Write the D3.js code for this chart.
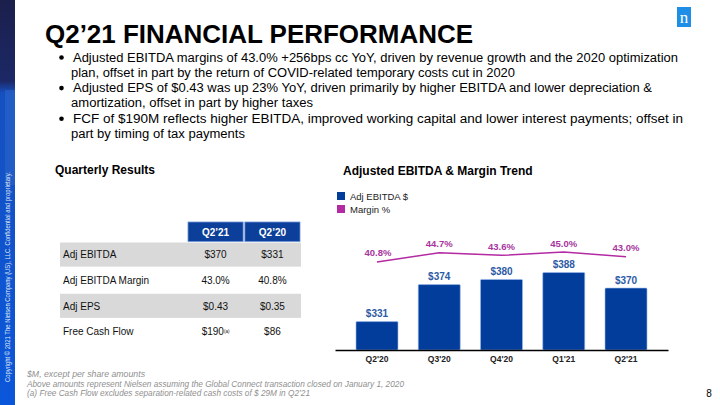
<!DOCTYPE html>
<html><head><meta charset="utf-8">
<script src="https://cdn.jsdelivr.net/npm/d3@7"></script>
<style>
html,body{margin:0;padding:0;background:#fff;}
svg{display:block;font-family:"Liberation Sans",Arial,sans-serif;}
</style></head>
<body><svg id="c" width="720" height="405"></svg>
<script>
const quarters = ["Q2'20","Q3'20","Q4'20","Q1'21","Q2'21"];
const ebitda = [331,374,380,388,370];
const margin = [40.8,44.7,43.6,45.0,43.0];
const tableRows = ["Adj EBITDA","Adj EBITDA Margin","Adj EPS","Free Cash Flow"];
const tableCols = ["Q2\u201921","Q2\u201920"];
const colQ221 = ["$370","43.0%","$0.43","$190"];
const colQ220 = ["$331","40.8%","$0.35","$86"];
const bullets = [
  ["Adjusted EBITDA margins of 43.0% +256bps cc YoY, driven by revenue growth and the 2020 optimization","plan, offset in part by the return of COVID-related temporary costs cut in 2020"],
  ["Adjusted EPS of $0.43 was up 23% YoY, driven primarily by higher EBITDA and lower depreciation &","amortization, offset in part by higher taxes"],
  ["FCF of $190M reflects higher EBITDA, improved working capital and lower interest payments; offset in","part by timing of tax payments"]
];
const footnotes = ["$M, except per share amounts","Above amounts represent Nielsen assuming the Global Connect transaction closed on January 1, 2020","(a) Free Cash Flow excludes separation-related cash costs of $ 29M in Q2\u201921"];

const svg = d3.select("#c");
const defs = svg.append("defs");
const g = defs.append("linearGradient").attr("id","side").attr("x1",0).attr("y1",0).attr("x2",0).attr("y2",1);
g.append("stop").attr("offset","0").attr("stop-color","#1b1f4c");
g.append("stop").attr("offset","0.2").attr("stop-color","#1c2866");
g.append("stop").attr("offset","0.23").attr("stop-color","#1650c0");
g.append("stop").attr("offset","1").attr("stop-color","#0a56da");
svg.append("rect").attr("x",0).attr("y",0).attr("width",15).attr("height",405).attr("fill","url(#side)");
svg.append("rect").attr("x",5).attr("y",90).attr("width",10).attr("height",95).attr("fill","#2b64c8").attr("opacity",0.6);
svg.append("text").attr("transform","translate(10,382) rotate(-90)")
  .attr("font-size",6.3).attr("fill","#dfe6f5").attr("textLength",210).attr("lengthAdjust","spacingAndGlyphs")
  .text("Copyright \u00a9 2021 The Nielsen Company (US), LLC. Confidential and proprietary.");

// logo
svg.append("rect").attr("x",677).attr("y",7).attr("width",14).attr("height",20).attr("fill","#1e8ee6");
svg.append("text").attr("x",684).attr("y",23).attr("text-anchor","middle").attr("font-family","Liberation Serif, serif")
  .attr("font-size",17).attr("fill","#fff").text("n");

// title
svg.append("text").attr("x",45).attr("y",43).attr("font-size",26).attr("font-weight","bold").attr("fill","#000")
  .attr("textLength",428).attr("lengthAdjust","spacingAndGlyphs").text("Q2\u201921 FINANCIAL PERFORMANCE");

// bullets
const widths = [[605,444],[579,242],[610,174]];
let by = 61.5;
bullets.forEach((b,i)=>{
  svg.append("circle").attr("cx",61.5).attr("cy",by-4).attr("r",2.3).attr("fill","#000");
  b.forEach((line,j)=>{
    svg.append("text").attr("x", j===0?73:71).attr("y",by).attr("font-size",12).attr("fill","#000")
      .attr("textLength",widths[i][j]).attr("lengthAdjust","spacingAndGlyphs").text(line);
    by += 15.3;
  });
});

// section titles
svg.append("text").attr("x",55).attr("y",174).attr("font-size",12).attr("font-weight","bold").text("Quarterly Results");
svg.append("text").attr("x",343).attr("y",175).attr("font-size",12).attr("font-weight","bold").text("Adjusted EBITDA & Margin Trend");

// table
const colX = d3.scaleBand().domain(tableCols).range([188,300]).paddingInner(0.03);
const rowY = d3.scaleBand().domain(tableRows).range([242.5,345]);
tableCols.forEach(c=>{
  svg.append("rect").attr("x",colX(c)).attr("y",222).attr("width",colX.bandwidth()).attr("height",19.5)
    .attr("fill","#0c3f99").attr("stroke","#6f95d6").attr("stroke-width",0.8);
  svg.append("text").attr("x",colX(c)+colX.bandwidth()/2).attr("y",235.5).attr("text-anchor","middle")
    .attr("font-size",10).attr("font-weight","bold").attr("fill","#fff").text(c);
});
tableRows.forEach((r,i)=>{
  if(i%2===0) svg.append("rect").attr("x",60).attr("y",rowY(r)).attr("width",241).attr("height",rowY.bandwidth()-1.5).attr("fill","#d9d9d9");
  const ty = rowY(r)+rowY.bandwidth()/2+3;
  svg.append("text").attr("x",63).attr("y",ty).attr("font-size",10).attr("fill","#111").text(r);
  const t = svg.append("text").attr("x",colX(tableCols[0])+colX.bandwidth()/2).attr("y",ty).attr("text-anchor","middle").attr("font-size",10).attr("fill","#111");
  t.append("tspan").text(colQ221[i]);
  if(i===3) t.append("tspan").attr("font-size",4.5).attr("dy",-2.5).text("(a)");
  svg.append("text").attr("x",colX(tableCols[1])+colX.bandwidth()/2).attr("y",ty).attr("text-anchor","middle").attr("font-size",10).attr("fill","#111").text(colQ220[i]);
});

// legend
const barColor = "#033d9c", lineColor = "#b42aa3";
svg.append("rect").attr("x",337).attr("y",192).attr("width",8).attr("height",8).attr("fill",barColor);
svg.append("text").attr("x",350).attr("y",199.5).attr("font-size",9.5).attr("fill","#222").text("Adj EBITDA $");
svg.append("rect").attr("x",337).attr("y",205).attr("width",8).attr("height",8).attr("fill",lineColor);
svg.append("text").attr("x",350).attr("y",212.5).attr("font-size",9.5).attr("fill","#222").text("Margin %");

// chart
const x = d3.scaleBand().domain(quarters).range([335,668]).paddingInner(0.325).paddingOuter(0.337);
const y = d3.scaleLinear().domain([298,420]).range([350,245]);
const ym = d3.scaleLinear().domain([30,50]).range([287.7,240.1]);

svg.append("g").selectAll("rect").data(quarters).join("rect")
  .attr("x",d=>x(d)).attr("width",x.bandwidth())
  .attr("y",(d,i)=>y(ebitda[i])).attr("height",(d,i)=>350-y(ebitda[i]))
  .attr("fill",barColor).attr("stroke","#9dbdf0").attr("stroke-width",0.6).attr("rx",1);
svg.append("g").selectAll("text").data(quarters).join("text")
  .attr("x",d=>x(d)+x.bandwidth()/2).attr("y",(d,i)=>y(ebitda[i])-4.5)
  .attr("text-anchor","middle").attr("font-size",10).attr("font-weight","bold").attr("fill","#2d5aa5")
  .text((d,i)=>"$"+ebitda[i]);

const xa = svg.append("g").attr("transform","translate(0,350)")
  .call(d3.axisBottom(x).tickSize(0).tickPadding(6).tickSizeOuter(0));
xa.select(".domain").attr("stroke","#000").attr("stroke-width",1.5);
xa.selectAll("text").attr("font-size",8.5).attr("font-weight","bold").attr("fill","#222")
  .attr("font-family","Liberation Sans Narrow, Liberation Sans, Arial, sans-serif");

const line = d3.line().x((d,i)=>x(quarters[i])+x.bandwidth()/2).y(d=>ym(d));
svg.append("path").datum(margin).attr("d",line).attr("fill","none").attr("stroke",lineColor).attr("stroke-width",1.5);
svg.append("g").selectAll("text").data(margin).join("text")
  .attr("x",(d,i)=>x(quarters[i])+x.bandwidth()/2+(i===0?1:0)).attr("y",d=>ym(d)-5.5)
  .attr("text-anchor","middle").attr("font-size",9.5).attr("font-weight","bold").attr("fill","#a8359d")
  .text(d=>d.toFixed(1)+"%");

// footnotes
const fw = [118,377,283];
footnotes.forEach((f,i)=>{
  svg.append("text").attr("x",27).attr("y",377+i*9.6).attr("font-size",8.5).attr("font-style","italic").attr("fill","#8f8f8f")
    .attr("textLength",fw[i]).attr("lengthAdjust","spacingAndGlyphs").text(f);
});
svg.append("text").attr("x",709).attr("y",397).attr("text-anchor","middle").attr("font-size",10).attr("fill","#000").text("8");
</script></body></html>
